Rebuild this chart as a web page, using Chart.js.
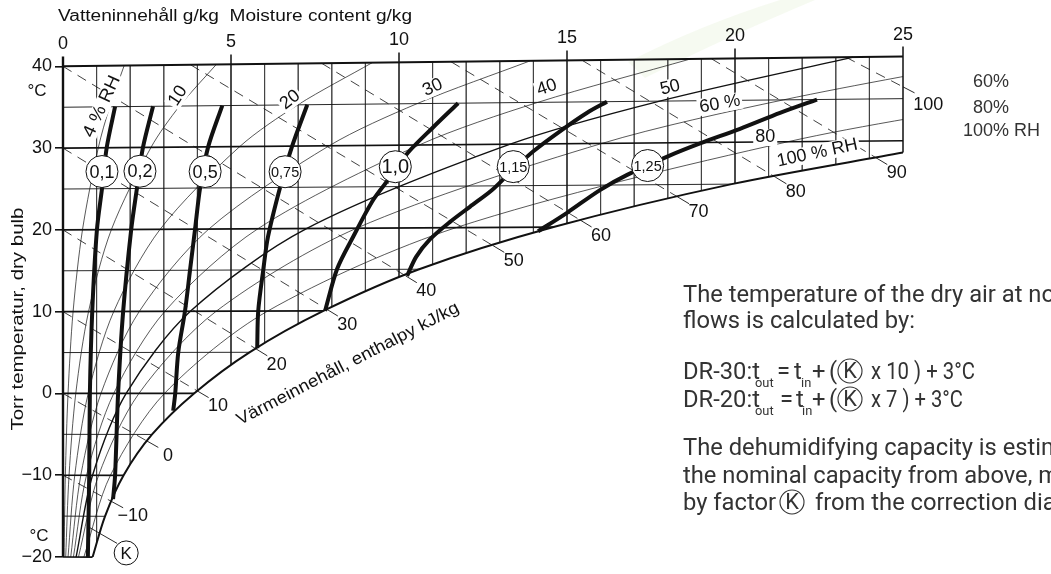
<!DOCTYPE html>
<html><head><meta charset="utf-8">
<script src="https://cdn.jsdelivr.net/npm/chart.js@4.4.1/dist/chart.umd.min.js"></script>
<style>html,body{margin:0;padding:0;background:#fff;overflow:hidden}</style>
</head><body>
<canvas id="c" width="1051" height="574"></canvas>
<script>
// ---------- DATA ----------
const moistTicks = [0, 5, 10, 15, 20, 25];            // g/kg
const tempTicks  = [-20, -10, 0, 10, 20, 30, 40];      // °C
const gridMoist  = [0,1,2,3,4,5,6,7,8,9,10,11,12,13,14,15,16,17,18,19,20,21,22,23,24,25];
const isoTemps   = [-20,-15,-10,-5,0,5,10,15,20,25,30,35,40];

// saturation curve (100 % RH)
const satX = [0.88, 1.25, 1.8, 2.65, 3.9, 5.55, 7.75, 10.6, 14.6, 19.9, 25.0];
const satT = [-20, -15, -10, -5, 0, 5, 10, 15, 20, 25, 28.6];

// relative humidity curves, x (g/kg) at temperatures rhTemp
const rhLevels = [4, 10, 20, 30, 40, 50, 60, 80];
const rhTemp = [-20, -10, 0, 10, 20, 30, 35, 40];
const rh4  = [0.03, 0.07, 0.15, 0.30, 0.58, 1.05, 1.39, 1.82];
const rh10 = [0.08, 0.18, 0.38, 0.76, 1.44, 2.62, 3.47, 4.56];
const rh20 = [0.15, 0.35, 0.75, 1.51, 2.89, 5.26, 6.99, 9.20];
const rh30 = [0.23, 0.53, 1.13, 2.27, 4.34, 7.92, 10.54, 13.90];
const rh40 = [0.31, 0.70, 1.51, 3.03, 5.80, 10.60, 14.13, 18.67];
const rh50 = [0.39, 0.88, 1.88, 3.79, 7.26, 13.31, 17.76, 23.51];
const rh60 = [0.46, 1.06, 2.26, 4.56, 8.74, 16.04, 21.44, 28.43];
const rh80 = [0.62, 1.41, 3.02, 6.09, 11.70, 21.57, 28.90, 36.90];

// enthalpy lines kJ/kg : start and end on the saturation curve
const hVals   = [-10, 0, 10, 20, 30, 40, 50, 60, 70, 80, 90, 100];
const hStartX = [0, 0, 0, 0, 0, 0, 3.8, 7.7, 11.55, 15.45, 19.3, 23.3];
const hStartT = [-10, 0, 10, 20, 30, 40, 40, 40, 40, 40, 40, 40];
const hEndX   = [1.45, 2.5, 4.0, 5.75, 7.85, 10.2, 12.8, 15.4, 18.3, 21.2, 24.2, 25];
const hEndT   = [-13.2, -5.8, 0.3, 5.4, 10.2, 14.2, 17.8, 20.8, 23.5, 25.8, 28.0, 36.4];

// correction factor (K) curves
const kLabels = ['0,1', '0,2', '0,5', '0,75', '1,0', '1,15', '1,25'];
const k01x = [0.74, 0.78, 0.80, 0.87, 1.01, 1.16, 1.30, 1.55];
const k01t = [-20, -10, 0, 10, 20, 25, 30, 35];
const k02x = [1.49, 1.55, 1.64, 1.79, 2.03, 2.20, 2.38, 2.68];
const k02t = [-12.9, -10, 0, 10, 20, 25, 30, 35];
const k05x = [3.28, 3.34, 3.43, 3.63, 3.78, 3.93, 4.08, 4.32, 4.74];
const k05t = [-2.1, 0, 5, 10, 15, 20, 25, 30, 35];
const k075x = [5.78, 5.81, 5.96, 6.10, 6.46, 6.82, 7.27];
const k075t = [5.5, 10, 15, 19, 25, 30, 35];
const k10x = [7.8, 8.16, 8.64, 9.23, 9.73, 10.27, 11.01, 11.76];
const k10t = [10, 15.1, 19.0, 23.4, 26.1, 29.1, 32.1, 35];
const k115x = [10.24, 10.51, 10.92, 11.52, 12.11, 12.77, 13.36, 13.99, 14.79, 15.6, 16.19];
const k115t = [14.2, 16.5, 18.6, 20.7, 22.5, 24.5, 26.8, 29.1, 31.5, 33.7, 35];
const k125x = [14.14, 15.0, 15.98, 16.79, 18.07, 18.96, 20.15, 21.34, 22.44];
const k125t = [19.5, 21.7, 24.4, 26.2, 28.5, 29.9, 31.6, 33.45, 35];
const kCircX = [1.16, 2.29, 4.23, 6.61, 9.89, 13.4, 17.4];
const kCircT = [27.1, 27.1, 27.0, 26.9, 27.4, 27.3, 27.3];

// ---------- presentation ----------
const SKEW = 0.0012;          // Mollier skew of the isotherms
const MAJOR_EXT = 1.2;        // major verticals poke above the top border
const FONT = '"Liberation Sans", Arial, Helvetica, sans-serif';
const TFONT = 'Roboto, "Open Sans", sans-serif';
const INK = '#111';
const P = (x, t) => ({ x: x, y: t * (1 + SKEW * x) });

const datasets = [];
const line = (data, o) => Object.assign({ data, showLine: true, pointRadius: 0, pointHoverRadius: 0,
  fill: false, tension: 0, borderColor: INK, borderWidth: 1, order: 40 }, o);
const gridClip = { left: 8, top: 8, right: 1, bottom: 0 };

gridMoist.forEach(k => {
  const major = k % 5 === 0;
  const bottomT = k === satX[satX.length - 1] ? satT[satT.length - 1] : -20;
  datasets.push(line([P(k, major ? 40 + MAJOR_EXT : 40), P(k, bottomT)],
    { borderColor: major ? INK : '#3a3a3a', borderWidth: k === 0 ? 2.4 : (major ? 1.5 : 0.7), order: 100, clip: gridClip }));
});
isoTemps.forEach(t => {
  const i = satT.indexOf(t);
  const xe = i >= 0 ? satX[i] : 25;
  datasets.push(line([P(0, t), P(xe, t)],
    { borderWidth: t === 40 ? 2 : (t % 10 === 0 ? 1.7 : 0.9), order: 90, clip: { left: 8, top: 8, right: 1, bottom: 2 } }));
});
datasets.push(line(satX.map((x, i) => P(x, satT[i])),
  { fill: 'start', backgroundColor: '#fff', borderWidth: 2, tension: 0.3, order: 50 }));
[rh4, rh10, rh20, rh30, rh40, rh50, rh60, rh80].forEach((arr, j) => {
  datasets.push(line(arr.map((x, i) => P(x, rhTemp[i])),
    { borderWidth: rhLevels[j] === 50 ? 1.4 : 0.7, tension: 0.3, order: 40 }));
});
hVals.forEach((h, i) => {
  datasets.push(line([P(hStartX[i], hStartT[i]), P(hEndX[i], hEndT[i])],
    { borderWidth: 0.8, borderDash: [10, 7], order: 40 }));
});
[[k01x, k01t], [k02x, k02t], [k05x, k05t], [k075x, k075t], [k10x, k10t], [k115x, k115t], [k125x, k125t]]
  .forEach(([xs, ts]) => datasets.push(line(xs.map((x, i) => P(x, ts[i])),
    { borderWidth: 4, tension: 0.3, cubicInterpolationMode: 'default', order: 20 })));
datasets.push({ data: kCircX.map((x, i) => P(x, kCircT[i])), showLine: false, pointRadius: 16,
  pointBackgroundColor: '#fff', pointBorderColor: INK, pointBorderWidth: 1, order: 10 });

// label layout (plot coordinates)
const rhLabelLayout = [
  { text: '4 % RH', x: 1.16, y: 35.1, angle: -65, w: 66 },
  { text: '10', x: 3.42, y: 36.4, angle: -57 },
  { text: '20', x: 6.76, y: 35.9, angle: -38 },
  { text: '30', x: 11.0, y: 37.4, angle: -25 },
  { text: '40', x: 14.4, y: 37.4, angle: -19 },
  { text: '50', x: 18.07, y: 37.4, angle: -14 },
  { text: '60 %', x: 19.55, y: 35.4, angle: -10 },
  { text: '80', x: 20.9, y: 31.3, angle: 0 },
  { text: '100 % RH', x: 22.45, y: 29.4, angle: -12 }
];

function txt(ctx, s, x, y, o) {
  o = o || {};
  ctx.save();
  ctx.font = (o.size || 17) + 'px ' + (o.family || FONT);
  const m = ctx.measureText(s).width;
  const sx = o.width ? o.width / m : (o.sx || 1);
  ctx.translate(x, y);
  if (o.angle) ctx.rotate(o.angle * Math.PI / 180);
  ctx.scale(sx, 1);
  ctx.textAlign = o.align || 'center';
  ctx.textBaseline = o.base || 'middle';
  if (o.bg) {
    const h = (o.size || 17) * 0.95;
    const left = o.align === 'left' ? -2 : (o.align === 'right' ? -m - 2 : -m / 2 - 2);
    ctx.fillStyle = '#fff';
    ctx.fillRect(left, -h / 2, m + 4, h);
  }
  ctx.fillStyle = o.color || INK;
  ctx.fillText(s, 0, 0);
  ctx.restore();
  return m * sx;
}
function circ(ctx, x, y, r, lw) {
  ctx.save(); ctx.beginPath(); ctx.arc(x, y, r, 0, Math.PI * 2);
  ctx.fillStyle = '#fff'; ctx.fill(); ctx.lineWidth = lw || 1; ctx.strokeStyle = INK; ctx.stroke(); ctx.restore();
}

const overlay = {
  id: 'overlay',
  beforeDraw(chart) {
    const ctx = chart.ctx;
    ctx.save();
    ctx.fillStyle = 'rgba(185,215,150,0.13)';
    ctx.beginPath(); ctx.moveTo(628, 62); ctx.quadraticCurveTo(700, 25, 780, 0);
    ctx.lineTo(815, 0); ctx.quadraticCurveTo(720, 40, 645, 78); ctx.closePath(); ctx.fill();
    ctx.restore();
  },
  afterDatasetsDraw(chart) {
    const ctx = chart.ctx, sx = chart.scales.x, sy = chart.scales.y;
    const px = (x, t) => [sx.getPixelForValue(x), sy.getPixelForValue(t * (1 + SKEW * x))];
    // moisture tick labels follow the tilted top border
    moistTicks.forEach(v => {
      const [tx, ty] = px(v, 40);
      txt(ctx, String(v), tx, ty - 22, { size: 18 });
    });
    // enthalpy ticks + labels
    hVals.forEach((h, i) => {
      const [x0, y0] = px(hStartX[i], hStartT[i]);
      const [x1, y1] = px(hEndX[i], hEndT[i]);
      const L = Math.hypot(x1 - x0, y1 - y0), dx = (x1 - x0) / L, dy = (y1 - y0) / L;
      ctx.save(); ctx.beginPath(); ctx.moveTo(x1, y1); ctx.lineTo(x1 + dx * 13, y1 + dy * 13);
      ctx.lineWidth = 0.9; ctx.strokeStyle = INK; ctx.stroke(); ctx.restore();
      const s = h < 0 ? '\u2212' + Math.abs(h) : String(h);
      txt(ctx, s, x1 + dx * 24 + (h >= 100 ? 4 : 0), y1 + dy * 24 + (h >= 100 ? 7 : 3), { size: 18 });
    });
    // RH labels
    rhLabelLayout.forEach(l => {
      txt(ctx, l.text, sx.getPixelForValue(l.x), sy.getPixelForValue(l.y),
        { size: 18, angle: l.angle, bg: true, width: l.w });
    });
    // K circle labels
    kLabels.forEach((s, i) => {
      const [cx, cy] = px(kCircX[i], kCircT[i]);
      const big = s.length === 3;
      txt(ctx, s, cx, cy + 1, { size: big ? (s === '1,0' ? 20 : 18) : 14.5 });
    });
    // enthalpy axis title
    txt(ctx, 'Värmeinnehåll, enthalpy kJ/kg', 348, 364, { size: 17, angle: -27.4, width: 248 });
    // K marker at the bottom
    const [kx, ky] = px(1.88, -19.5 / (1 + SKEW * 1.88));
    const [lx0, ly0] = px(1.61, -18.3);
    const [lx1, ly1] = px(0.80, -16.4);
    ctx.save(); ctx.beginPath(); ctx.moveTo(lx0, ly0); ctx.lineTo(lx1, ly1);
    ctx.lineWidth = 0.9; ctx.strokeStyle = INK; ctx.stroke(); ctx.restore();
    circ(ctx, kx, ky, 12, 1);
    txt(ctx, 'K', kx, ky + 1, { size: 17 });
  },
  afterDraw(chart) {
    const ctx = chart.ctx;
    txt(ctx, 'Vatteninnehåll g/kg  Moisture content g/kg', 58, 17, { size: 16, align: 'left', width: 354 });
    txt(ctx, 'Torr temperatur, dry bulb', 18, 319, { size: 17, angle: -90, width: 223 });
    txt(ctx, '°C', 37, 91, { size: 17 });
    txt(ctx, '°C', 39, 536, { size: 17 });
    txt(ctx, '60%', 973, 82, { size: 18, align: 'left', color: '#333' });
    txt(ctx, '80%', 973, 108, { size: 18, align: 'left', color: '#333' });
    txt(ctx, '100% RH', 963, 131, { size: 18, align: 'left', color: '#333' });

    // explanatory text
    ctx.save();
    ctx.font = '24px ' + TFONT;
    const scx = 232 / ctx.measureText('flows is calculated by:').width;
    ctx.restore();
    const C = '#333';
    const T = (s, x, y, size, w) => txt(ctx, s, x, y, { size: size || 24, family: TFONT, sx: scx, width: w, align: 'left', base: 'alphabetic', color: C });
    const K = (x, y) => {
      ctx.save(); ctx.beginPath(); ctx.arc(x, y, 12, 0, Math.PI * 2); ctx.lineWidth = 1.1; ctx.strokeStyle = C; ctx.stroke(); ctx.restore();
      txt(ctx, 'K', x, y + 1, { size: 22, family: TFONT, sx: scx, color: C });
    };
    T('The temperature of the dry air at nominal air', 683, 302);
    T('flows is calculated by:', 683, 328);
    T('DR-30:t', 683, 379); T('out', 755, 387, 13); T('=', 777, 379); T('t', 794, 379); T('in', 801, 387, 13);
    T('+', 812, 379); T('(', 829, 379); K(850, 371); T('x 10 ) + 3°C', 871, 379, 24, 104);
    T('DR-20:t', 683, 407); T('out', 755, 415, 13); T('=', 780, 407); T('t', 796, 407); T('in', 802, 415, 13);
    T('+', 812, 407); T('(', 829, 407); K(850, 399); T('x 7 ) + 3°C', 871, 407, 24, 92);
    T('The dehumidifying capacity is estimated by taking', 683, 455);
    T('the nominal capacity from above, multiplied', 683, 483);
    T('by factor', 683, 510); K(792, 502); T('from the correction diagram.', 815, 510);
  }
};

new Chart(document.getElementById('c'), {
  type: 'scatter',
  data: { datasets },
  options: {
    responsive: false, animation: false, devicePixelRatio: 1, events: [],
    layout: { padding: { left: 0, top: 0, right: 148, bottom: 11 } },
    plugins: { legend: { display: false }, tooltip: { enabled: false } },
    elements: { line: { borderCapStyle: 'butt' } },
    scales: {
      x: {
        type: 'linear', position: 'top', min: 0, max: 25,
        afterBuildTicks(s) { s.ticks = moistTicks.map(v => ({ value: v })); },
        ticks: { display: false },
        grid: { display: false, drawTicks: false }, border: { display: false },
        afterFit(s) { s.height = 50; }
      },
      y: {
        type: 'linear', position: 'left', min: -20, max: 42,
        afterBuildTicks(s) { s.ticks = tempTicks.map(v => ({ value: v })); },
        ticks: { padding: 3, color: INK, font: { family: FONT, size: 18 },
          callback: v => v < 0 ? '\u2212' + Math.abs(v) : String(v) },
        grid: { drawOnChartArea: false, drawTicks: true, tickLength: 8, color: INK, lineWidth: 1.6 },
        border: { display: false },
        afterFit(s) { s.width = 63; }
      }
    }
  },
  plugins: [overlay]
});
</script>
</body></html>
